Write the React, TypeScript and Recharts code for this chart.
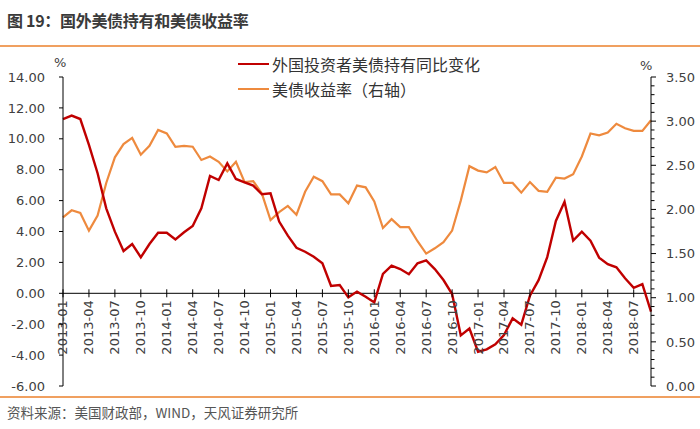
import React from 'react';
import { LineChart, Line, XAxis, YAxis, ReferenceLine } from 'recharts';

const months = [
  '2013-01','2013-02','2013-03','2013-04','2013-05','2013-06','2013-07','2013-08','2013-09','2013-10','2013-11','2013-12',
  '2014-01','2014-02','2014-03','2014-04','2014-05','2014-06','2014-07','2014-08','2014-09','2014-10','2014-11','2014-12',
  '2015-01','2015-02','2015-03','2015-04','2015-05','2015-06','2015-07','2015-08','2015-09','2015-10','2015-11','2015-12',
  '2016-01','2016-02','2016-03','2016-04','2016-05','2016-06','2016-07','2016-08','2016-09','2016-10','2016-11','2016-12',
  '2017-01','2017-02','2017-03','2017-04','2017-05','2017-06','2017-07','2017-08','2017-09','2017-10','2017-11','2017-12',
  '2018-01','2018-02','2018-03','2018-04','2018-05','2018-06','2018-07','2018-08','2018-09',
];

const holdingsYoY = [
  11.28, 11.5, 11.28, 9.6, 7.77, 5.5, 3.99, 2.74, 3.19, 2.33, 3.19, 3.92,
  3.92, 3.49, 3.95, 4.36, 5.5, 7.59, 7.33, 8.41, 7.4, 7.18, 6.97, 6.41,
  6.47, 4.64, 3.73, 2.95, 2.69, 2.37, 1.94, 0.47, 0.54, -0.26, 0.11, -0.22,
  -0.59, 1.25, 1.79, 1.57, 1.23, 1.94, 2.13, 1.57, 0.86, -0.05, -2.72, -2.28,
  -3.78, -3.63, -3.3, -2.7, -1.62, -2.03, -0.15, 0.85, 2.34, 4.68, 5.93, 3.41,
  3.99, 3.41, 2.31, 1.88, 1.68, 0.97, 0.36, 0.6, -1.19,
];

const yieldRate = [
  1.91, 1.99, 1.96, 1.76, 1.93, 2.3, 2.59, 2.74, 2.81, 2.62, 2.72, 2.9,
  2.86, 2.71, 2.72, 2.71, 2.56, 2.6, 2.54, 2.43, 2.54, 2.31, 2.32, 2.18,
  1.88, 1.97, 2.04, 1.94, 2.2, 2.37, 2.32, 2.17, 2.17, 2.07, 2.27, 2.25,
  2.09, 1.79, 1.89, 1.8, 1.8, 1.64, 1.5, 1.56, 1.63, 1.76, 2.1, 2.49,
  2.44, 2.42, 2.48, 2.3, 2.3, 2.19, 2.31, 2.21, 2.2, 2.36, 2.35, 2.4,
  2.6, 2.86, 2.84, 2.87, 2.97, 2.92, 2.89, 2.89, 3.01,
];

const leftTicks = [-6, -4, -2, 0, 2, 4, 6, 8, 10, 12, 14];
const rightMajorTicks = [0, 0.5, 1, 1.5, 2, 2.5, 3, 3.5];
const rightAllTicks = [
  0, 0.1, 0.2, 0.3, 0.4, 0.5, 0.6, 0.7, 0.8, 0.9, 1, 1.1, 1.2, 1.3, 1.4, 1.5, 1.6, 1.7,
  1.8, 1.9, 2, 2.1, 2.2, 2.3, 2.4, 2.5, 2.6, 2.7, 2.8, 2.9, 3, 3.1, 3.2, 3.3, 3.4, 3.5,
];

const seriesNames = ['外国投资者美债持有同比变化', '美债收益率（右轴）'];
const title = '图 19：国外美债持有和美债收益率';
const source = '资料来源：美国财政部，WIND，天风证券研究所';

const RED = '#C00000';
const ORANGE = '#EE8A3E';
const RULE = '#F0A060';
const TEXT = '#404040';
const NUM_FONT = '"DejaVu Sans", Verdana, sans-serif';
const CJK_FONT = '"Noto Sans CJK SC", "Noto Sans", sans-serif';

const data = months.map((m, i) => ({ month: m, holdings: holdingsYoY[i], yield: yieldRate[i] }));

const W = 700;
const H = 429;
const PLOT_TOP = 77;
const PLOT_BOTTOM = 386;
const PLOT_LEFT = 63;
const PLOT_RIGHT = 651;
const L_MIN = -6;
const L_MAX = 14;
const zeroY = PLOT_TOP + ((PLOT_BOTTOM - PLOT_TOP) * (L_MAX - 0)) / (L_MAX - L_MIN);

const XTick = (props: any) => {
  const { x, payload } = props;
  const ty = zeroY + 7;
  return (
    <g>
      <line x1={x} x2={x} y1={zeroY - 4} y2={zeroY + 4} stroke="#000" strokeWidth={1} />
      <text
        x={x}
        y={ty}
        transform={`rotate(-90 ${x} ${ty})`}
        textAnchor="end"
        dominantBaseline="central"
        fontSize={13}
        fontFamily={NUM_FONT}
        fill={TEXT}
      >
        {payload.value}
      </text>
    </g>
  );
};

const RightTick = (props: any) => {
  const { x, y, payload } = props;
  const v = payload.value;
  const isMajor = rightMajorTicks.some((t) => Math.abs(t - v) < 1e-6);
  return (
    <g>
      <line x1={x} x2={x + (isMajor ? 5 : 3.5)} y1={y} y2={y} stroke="#000" strokeWidth={1} />
      {isMajor && (
        <text x={x + 15} y={y} dy="0.36em" textAnchor="start" fontSize={13} fontFamily={NUM_FONT} fill={TEXT}>
          {v.toFixed(2)}
        </text>
      )}
    </g>
  );
};

const LeftTick = (props: any) => {
  const { x, y, payload } = props;
  return (
    <g>
      <line x1={x - 4} x2={x} y1={y} y2={y} stroke="#000" strokeWidth={1} />
      <text x={x - 18} y={y} dy="0.36em" textAnchor="end" fontSize={13} fontFamily={NUM_FONT} fill={TEXT}>
        {Number(payload.value).toFixed(2)}
      </text>
    </g>
  );
};

export default function App() {
  return (
    <div
      style={{
        position: 'absolute',
        left: 0,
        top: 0,
        width: W,
        height: H,
        background: '#fff',
        overflow: 'hidden',
        fontFamily: CJK_FONT,
      }}
    >
      <div
        style={{
          position: 'absolute',
          left: 7,
          top: 8,
          fontSize: 16,
          fontWeight: 700,
          letterSpacing: -0.3,
          color: '#3a3a3a',
          whiteSpace: 'nowrap',
          lineHeight: '24px',
        }}
      >
        {title}
      </div>
      <div style={{ position: 'absolute', left: 0, top: 45, width: W, height: 2, background: RULE }} />
      <div style={{ position: 'absolute', left: 0, top: 396, width: W, height: 2, background: RULE }} />
      <div
        style={{
          position: 'absolute',
          left: 7,
          top: 402,
          fontSize: 13.5,
          color: '#555',
          whiteSpace: 'nowrap',
          lineHeight: '20px',
        }}
      >
        {source}
      </div>

      <div style={{ position: 'absolute', left: 54, top: 55, fontSize: 13, color: TEXT, fontFamily: NUM_FONT }}>%</div>
      <div style={{ position: 'absolute', left: 640, top: 58, fontSize: 13, color: TEXT, fontFamily: NUM_FONT }}>%</div>

      <div style={{ position: 'absolute', left: 0, top: 0 }}>
        <LineChart
          width={W}
          height={H}
          data={data}
          margin={{ top: PLOT_TOP, right: 0, bottom: 0, left: 0 }}
        >
          <XAxis
            dataKey="month"
            interval={2}
            axisLine={false}
            tickLine={false}
            tick={<XTick />}
            height={H - PLOT_BOTTOM}
            padding={{ left: 0, right: 0 }}
          />
          <YAxis
            yAxisId="left"
            orientation="left"
            width={PLOT_LEFT}
            domain={[L_MIN, L_MAX]}
            ticks={leftTicks}
            allowDataOverflow
            axisLine={{ stroke: '#000', strokeWidth: 1 }}
            tickLine={false}
            tickSize={0}
            tickMargin={0}
            tick={<LeftTick />}
            interval={0}
          />
          <YAxis
            yAxisId="right"
            orientation="right"
            width={W - PLOT_RIGHT}
            domain={[0, 3.5]}
            ticks={rightAllTicks}
            allowDataOverflow
            axisLine={{ stroke: '#000', strokeWidth: 1 }}
            tickLine={false}
            tickSize={0}
            tickMargin={0}
            tick={<RightTick />}
            interval={0}
          />
          <ReferenceLine yAxisId="left" y={0} stroke="#000" strokeWidth={1} />
          <Line
            yAxisId="right"
            type="linear"
            dataKey="yield"
            name={seriesNames[1]}
            stroke={ORANGE}
            strokeWidth={2.2}
            dot={false}
            isAnimationActive={false}
          />
          <Line
            yAxisId="left"
            type="linear"
            dataKey="holdings"
            name={seriesNames[0]}
            stroke={RED}
            strokeWidth={2.4}
            dot={false}
            isAnimationActive={false}
          />
        </LineChart>
      </div>

      {seriesNames.map((name, i) => (
        <div
          key={name}
          style={{
            position: 'absolute',
            left: 238,
            top: 53 + i * 25,
            height: 22,
            display: 'flex',
            alignItems: 'center',
            whiteSpace: 'nowrap',
          }}
        >
          <div style={{ width: 31, height: i === 0 ? 2 : 1.6, background: i === 0 ? RED : ORANGE, marginRight: 3 }} />
          <span style={{ fontSize: 16, color: '#333', lineHeight: '22px' }}>{name}</span>
        </div>
      ))}
    </div>
  );
}
